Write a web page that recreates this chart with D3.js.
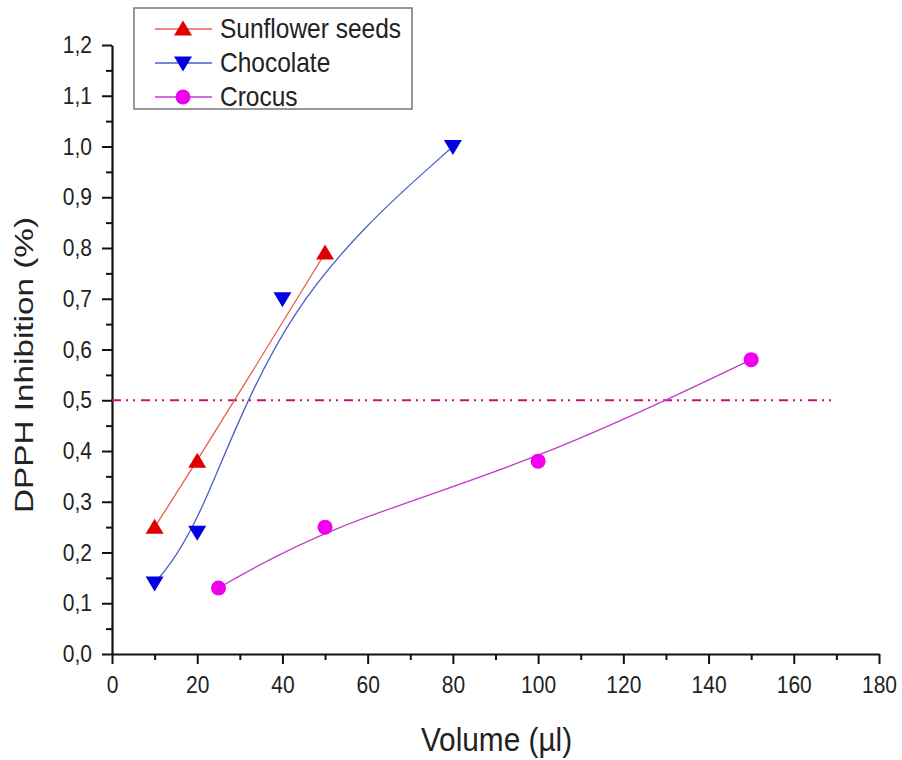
<!DOCTYPE html>
<html><head><meta charset="utf-8">
<script src="https://cdn.jsdelivr.net/npm/d3@7"></script>
<style>html,body{margin:0;padding:0;background:#fff;}</style>
</head><body>
<svg id="c" width="902" height="760"></svg>
<script>
const seriesNames = ["Sunflower seeds", "Chocolate", "Crocus"];
const sunflowerX = [10, 20, 50];
const sunflowerY = [0.25, 0.38, 0.79];
const chocolateX = [10, 20, 40, 80];
const chocolateY = [0.14, 0.24, 0.70, 1.0];
const crocusX = [25, 50, 100, 150];
const crocusY = [0.13, 0.25, 0.38, 0.58];
const refY = 0.5, refX = [0, 170];
const xTicks = [0,20,40,60,80,100,120,140,160,180];
const yTicks = [0,0.1,0.2,0.3,0.4,0.5,0.6,0.7,0.8,0.9,1.0,1.1,1.2];

const FONT = "Liberation Sans, Arial, sans-serif";
const SY = 1.13;
const svg = d3.select("#c");
const L = 112, R = 879, T = 45, B = 654;
const x = d3.scaleLinear().domain([0,180]).range([L,R]);
const y = d3.scaleLinear().domain([0,1.2]).range([B,T]);
const fmt = d => d3.format(".1f")(d).replace(".", ",");

// minor ticks
const gxm = svg.append("g").attr("transform",`translate(0,${B})`)
  .call(d3.axisBottom(x).tickValues(d3.range(10,180,20)).tickSize(6).tickFormat(""));
const gym = svg.append("g").attr("transform",`translate(${L},0)`)
  .call(d3.axisLeft(y).tickValues(d3.range(0.05,1.2,0.1)).tickSize(6).tickFormat(""));
[gxm,gym].forEach(g=>{g.select(".domain").remove(); g.selectAll("line").attr("stroke","#111").attr("stroke-width",2);});

const gx = svg.append("g").attr("transform",`translate(0,${B})`)
  .call(d3.axisBottom(x).tickValues(xTicks).tickSize(10).tickPadding(10).tickSizeOuter(0));
const gy = svg.append("g").attr("transform",`translate(${L},0)`)
  .call(d3.axisLeft(y).tickValues(yTicks).tickSize(10).tickPadding(10).tickFormat(fmt).tickSizeOuter(0));
[gx,gy].forEach(g=>{
  g.select(".domain").attr("stroke","#111").attr("stroke-width",2.2);
  g.selectAll(".tick line").attr("stroke","#111").attr("stroke-width",2);
  g.selectAll("text").attr("font-family",FONT).attr("font-size",21).attr("fill","#222")
    .attr("transform",`scale(1,${SY})`);
});

svg.append("text").attr("transform",`translate(${(420+573)/2},751) scale(1,${SY})`).attr("text-anchor","middle")
  .attr("font-family",FONT).attr("font-size",29.8).attr("fill","#222")
  .text("Volume (µl)");
svg.append("text").attr("transform",`translate(33,365) rotate(-90)`).attr("text-anchor","middle")
  .attr("font-family",FONT).attr("font-size",25).attr("fill","#222")
  .attr("textLength",296).attr("lengthAdjust","spacingAndGlyphs")
  .text("DPPH Inhibition (%)");

// reference line
svg.append("line").attr("x1",x(refX[0])).attr("x2",x(refX[1])).attr("y1",y(refY)).attr("y2",y(refY))
  .attr("stroke","#c8107a").attr("stroke-width",2).attr("stroke-dasharray","9,5,2,5,2,6");

const series = [
  {xs:sunflowerX, ys:sunflowerY, line:"#e8604a", fill:"#e00000", sym:"up"},
  {xs:chocolateX, ys:chocolateY, line:"#4a60c8", fill:"#0000e0", sym:"down"},
  {xs:crocusX, ys:crocusY, line:"#c040c8", fill:"#f000f0", sym:"circle"}
];
const lineGen = d3.line().x(d=>x(d[0])).y(d=>y(d[1])).curve(d3.curveBasis);
function marker(g, cx, cy, s){
  if(s.sym==="circle") g.append("circle").attr("cx",cx).attr("cy",cy).attr("r",7.5).attr("fill",s.fill);
  else {
    const sgn = s.sym==="up"?1:-1;
    g.append("path").attr("d",`M${cx},${cy-sgn*8.5} L${cx+9},${cy+sgn*6.5} L${cx-9},${cy+sgn*6.5} Z`).attr("fill",s.fill);
  }
}
series.forEach(s=>{
  const pts = s.xs.map((v,i)=>[v,s.ys[i]]);
  svg.append("path").attr("d",lineGen(pts)).attr("fill","none").attr("stroke",s.line).attr("stroke-width",1.3);
  const g = svg.append("g");
  pts.forEach(p=>marker(g, x(p[0]), y(p[1]), s));
});

// legend
const lg = svg.append("g");
lg.append("rect").attr("x",134).attr("y",8).attr("width",278).attr("height",101)
  .attr("fill","#fff").attr("stroke","#777").attr("stroke-width",1.5);
series.forEach((s,i)=>{
  const cy = 29 + i*34;
  lg.append("line").attr("x1",155).attr("x2",212).attr("y1",cy).attr("y2",cy).attr("stroke",s.line).attr("stroke-width",1.3);
  marker(lg, 183, cy, s);
  lg.append("text").attr("transform",`translate(220,${cy+9}) scale(1,${SY})`).attr("font-family",FONT)
    .attr("font-size",24.5).attr("fill","#222").text(seriesNames[i]);
});
</script>
</body></html>
